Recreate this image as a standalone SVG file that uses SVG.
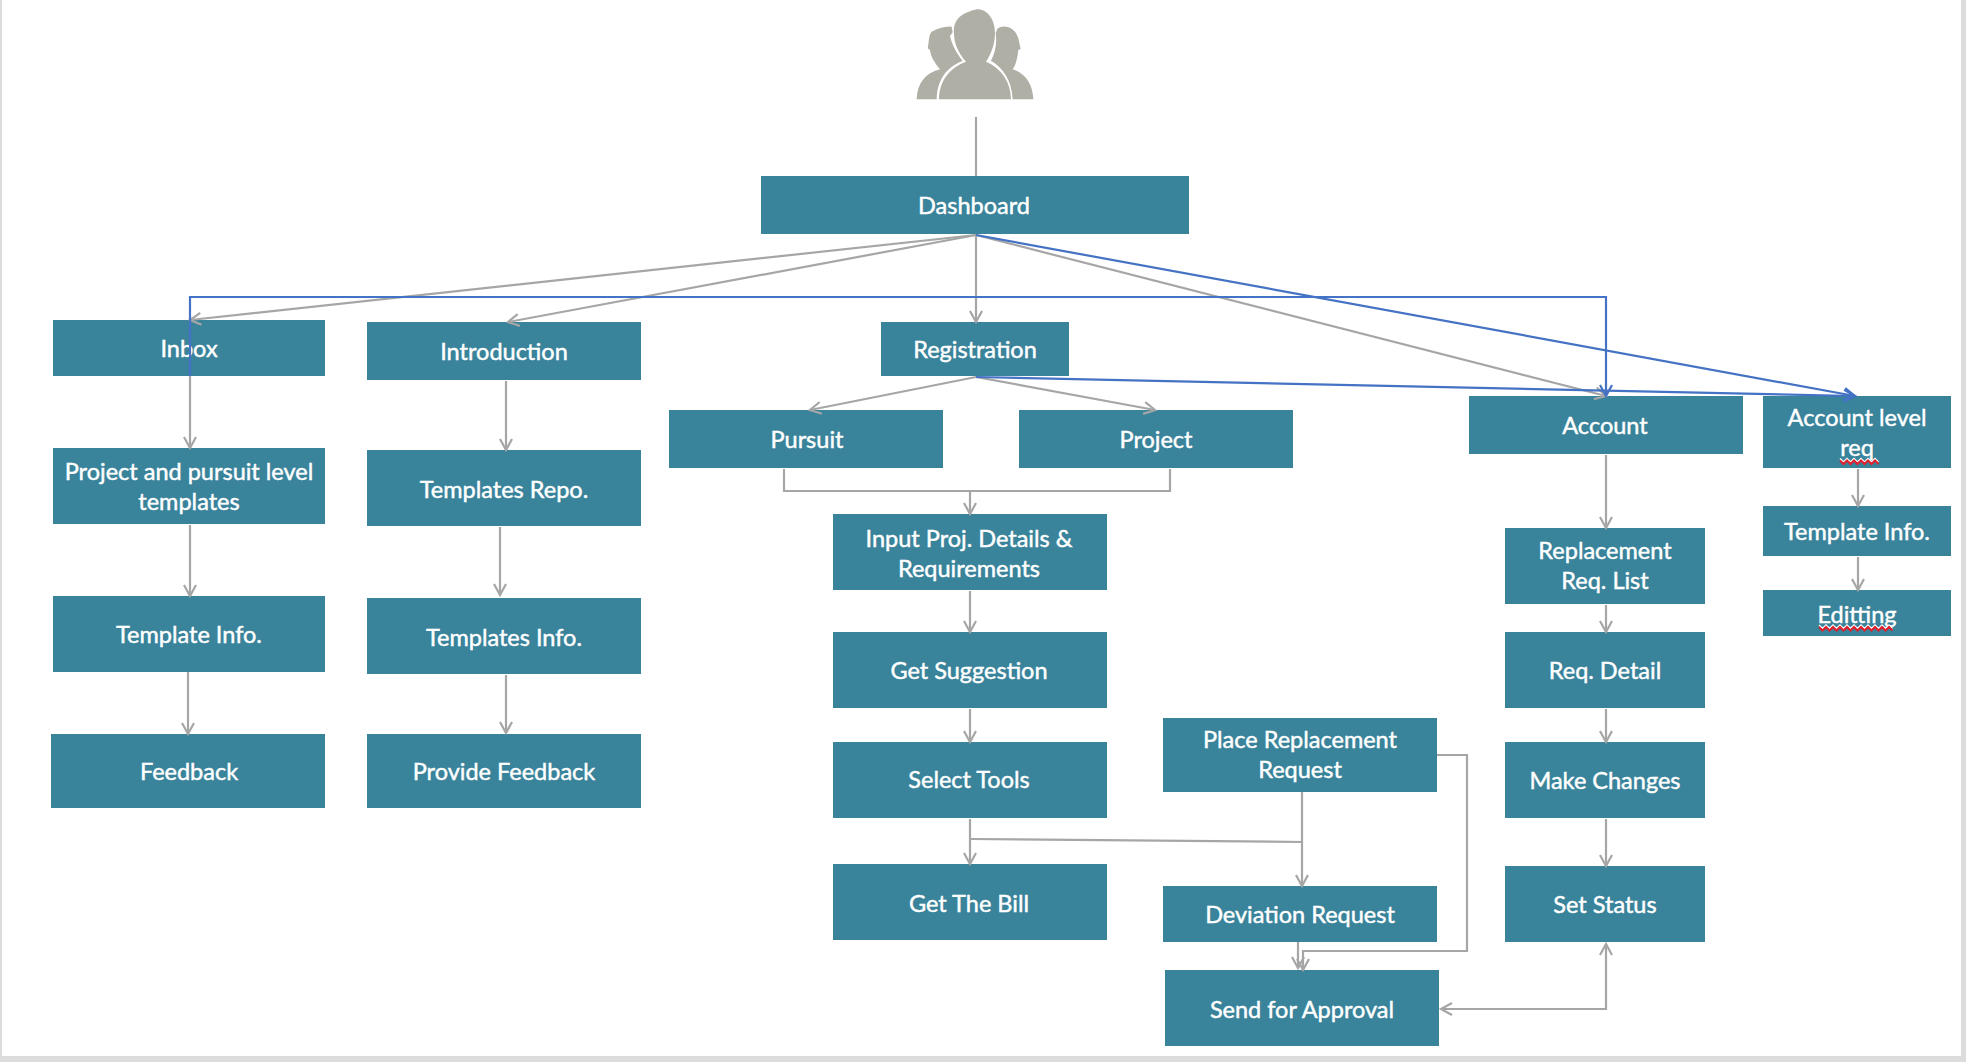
<svg xmlns="http://www.w3.org/2000/svg" width="1966" height="1062" viewBox="0 0 1966 1062">
<style>
.n{fill:#39839b}
text{font-family:"Lato","Liberation Sans",sans-serif;font-size:23.5px;fill:#fff;text-anchor:middle;stroke:#fff;stroke-width:.45px}
.c{fill:none;stroke:#a6a6a6;stroke-width:2.2}
.b{fill:none;stroke:#4472c4;stroke-width:2.2}
.a{marker-end:url(#ag)}
.ab{marker-end:url(#ab)}
.w{fill:none;stroke:#e0202c;stroke-width:2}
.ww{fill:none;stroke:#fff;stroke-width:1.5}
.ic{fill:#b0afa6}
</style>
<defs>
<marker id="ag" markerUnits="userSpaceOnUse" markerWidth="16" markerHeight="16" refX="13" refY="8" orient="auto"><path d="M2 2L13 8L2 14" fill="none" stroke="#a6a6a6" stroke-width="2.200"/></marker>
<marker id="ag2" markerUnits="userSpaceOnUse" markerWidth="16" markerHeight="16" refX="3" refY="8" orient="auto"><path d="M14 2L3 8L14 14" fill="none" stroke="#a6a6a6" stroke-width="2.200"/></marker>
<marker id="ab" markerUnits="userSpaceOnUse" markerWidth="16" markerHeight="16" refX="13" refY="8" orient="auto"><path d="M2 2L13 8L2 14" fill="none" stroke="#4472c4" stroke-width="2.200"/></marker>
</defs>
<rect width="1966" height="1062" fill="#fff"/>
<rect x="0" y="0" width="2" height="1062" fill="#dcdcdc"/>
<rect x="1961" y="0" width="5" height="1062" fill="#dcdcdc"/>
<rect x="0" y="1056" width="1966" height="6" fill="#dcdcdc"/>
<g id="users" transform="translate(880 0) scale(.3333)">
<path class="ic" d="M110 298C112 250 135 220 180 208C165 190 152 170 150 150L143 145C147 130 145 105 155 95C175 85 195 78 215 80L218 97L210 108C216 135 230 160 248 183C215 195 172 225 170 298Z"/>
<path class="ic" d="M177 298C178 245 205 205 258 185C235 160 222 130 222 100C218 55 250 38 290 28C325 28 345 60 345 100C345 130 335 160 318 185C365 205 392 245 393 298Z"/>
<path class="ic" d="M398 298C395 240 370 205 333 182C345 160 352 130 347 100L352 86C372 72 405 80 415 115L422 147L415 150C412 175 408 195 398 208C435 220 458 250 460 298Z"/>
</g>
<g id="dashboard"><rect class="n" x="761" y="176" width="428" height="58"/><text x="974" y="214">Dashboard</text></g>
<g id="inbox"><rect class="n" x="53" y="320" width="272" height="56"/><text x="189" y="357">Inbox</text></g>
<g id="project-pursuit"><rect class="n" x="53" y="448" width="272" height="76"/><text x="189" y="480">Project and pursuit level</text><text x="189" y="510">templates</text></g>
<g id="template-info-1"><rect class="n" x="53" y="596" width="272" height="76"/><text x="189" y="643">Template Info.</text></g>
<g id="feedback"><rect class="n" x="51" y="734" width="274" height="74"/><text x="189" y="780">Feedback</text></g>
<g id="introduction"><rect class="n" x="367" y="322" width="274" height="58"/><text x="504" y="360">Introduction</text></g>
<g id="templates-repo"><rect class="n" x="367" y="450" width="274" height="76"/><text x="504" y="498">Templates Repo.</text></g>
<g id="templates-info"><rect class="n" x="367" y="598" width="274" height="76"/><text x="504" y="646">Templates Info.</text></g>
<g id="provide-feedback"><rect class="n" x="367" y="734" width="274" height="74"/><text x="504" y="780">Provide Feedback</text></g>
<g id="registration"><rect class="n" x="881" y="322" width="188" height="54"/><text x="975" y="358">Registration</text></g>
<g id="pursuit"><rect class="n" x="669" y="410" width="274" height="58"/><text x="807" y="448">Pursuit</text></g>
<g id="project"><rect class="n" x="1019" y="410" width="274" height="58"/><text x="1156" y="448">Project</text></g>
<g id="input-proj"><rect class="n" x="833" y="514" width="274" height="76"/><text x="969" y="547">Input Proj. Details &amp;</text><text x="969" y="577">Requirements</text></g>
<g id="get-suggestion"><rect class="n" x="833" y="632" width="274" height="76"/><text x="969" y="679">Get Suggestion</text></g>
<g id="select-tools"><rect class="n" x="833" y="742" width="274" height="76"/><text x="969" y="788">Select Tools</text></g>
<g id="get-bill"><rect class="n" x="833" y="864" width="274" height="76"/><text x="969" y="912">Get The Bill</text></g>
<g id="place-replacement"><rect class="n" x="1163" y="718" width="274" height="74"/><text x="1300" y="748">Place Replacement</text><text x="1300" y="778">Request</text></g>
<g id="deviation"><rect class="n" x="1163" y="886" width="274" height="56"/><text x="1300" y="923">Deviation Request</text></g>
<g id="send-approval"><rect class="n" x="1165" y="970" width="274" height="76"/><text x="1302" y="1018">Send for Approval</text></g>
<g id="account"><rect class="n" x="1469" y="396" width="274" height="58"/><text x="1605" y="434">Account</text></g>
<g id="replacement-list"><rect class="n" x="1505" y="528" width="200" height="76"/><text x="1605" y="559">Replacement</text><text x="1605" y="589">Req. List</text></g>
<g id="req-detail"><rect class="n" x="1505" y="632" width="200" height="76"/><text x="1605" y="679">Req. Detail</text></g>
<g id="make-changes"><rect class="n" x="1505" y="742" width="200" height="76"/><text x="1605" y="789">Make Changes</text></g>
<g id="set-status"><rect class="n" x="1505" y="866" width="200" height="76"/><text x="1605" y="913">Set Status</text></g>
<g id="account-level"><rect class="n" x="1763" y="396" width="188" height="72"/><text x="1857" y="426">Account level</text><text x="1857" y="456">req</text><path class="ww" d="M1840 458.500l3.500 3.500 3.500-3.500 3.500 3.500 3.500-3.500 3.500 3.500 3.500-3.500 3.500 3.500 3.500-3.500 3.500 3.500 3.500-3.500 3.500 3.500"/><path class="w" d="M1840 460.500l3.500 3.500 3.500-3.500 3.500 3.500 3.500-3.500 3.500 3.500 3.500-3.500 3.500 3.500 3.500-3.500 3.500 3.500 3.500-3.500 3.500 3.500"/></g>
<g id="template-info-2"><rect class="n" x="1763" y="506" width="188" height="50"/><text x="1857" y="540">Template Info.</text></g>
<g id="editting"><rect class="n" x="1763" y="590" width="188" height="46"/><text x="1857" y="623">Editting</text><path class="ww" d="M1819 625l3.500 3.500 3.500-3.500 3.500 3.500 3.500-3.500 3.500 3.500 3.500-3.500 3.500 3.500 3.500-3.500 3.500 3.500 3.500-3.500 3.500 3.500 3.500-3.500 3.500 3.500 3.500-3.500 3.500 3.500 3.500-3.500 3.500 3.500 3.500-3.500 3.500 3.500 3.500-3.500 3.500 3.500"/><path class="w" d="M1819 627l3.500 3.500 3.500-3.500 3.500 3.500 3.500-3.500 3.500 3.500 3.500-3.500 3.500 3.500 3.500-3.500 3.500 3.500 3.500-3.500 3.500 3.500 3.500-3.500 3.500 3.500 3.500-3.500 3.500 3.500 3.500-3.500 3.500 3.500 3.500-3.500 3.500 3.500 3.500-3.500 3.500 3.500"/></g>
<g id="connectors">
<path class="c" d="M976 117V176"/>
<path class="c a" d="M976 235L190 320"/>
<path class="c a" d="M976 235L508 322"/>
<path class="c a" d="M976 235V322"/>
<path class="c a" d="M976 235L1606 396"/>
<path class="c a" d="M190 376V448"/>
<path class="c a" d="M190 525V596"/>
<path class="c a" d="M188 672V734"/>
<path class="c a" d="M506 381V450"/>
<path class="c a" d="M500 527V595"/>
<path class="c a" d="M506 675V733"/>
<path class="c a" d="M976 377L810 410"/>
<path class="c a" d="M976 377L1155 410"/>
<path class="c" d="M784 469V491H1170V469"/>
<path class="c a" d="M970 491V514"/>
<path class="c a" d="M970 591V632"/>
<path class="c a" d="M970 709V742"/>
<path class="c a" d="M970 819V864"/>
<path class="c" d="M971 839L1303 842"/>
<path class="c a" d="M1302 792V886"/>
<path class="c a" d="M1298 942V968"/>
<path class="c a" d="M1437 755H1467V951H1303V970"/>
<path class="c a" d="M1606 455V528"/>
<path class="c a" d="M1606 605V632"/>
<path class="c a" d="M1606 709V742"/>
<path class="c a" d="M1606 819V866"/>
<path class="c a" d="M1606 944V1009H1441" style="marker-start:url(#ag2)"/>
<path class="c a" d="M1858 469V506"/>
<path class="c a" d="M1858 557V590"/>
<path class="b" d="M190 376V297H1606V396" style="marker-end:url(#ab)"/>
<path class="b ab" d="M976 235L1855 396"/>
<path class="b ab" d="M976 377L1855 396"/>
</g>
</svg>
